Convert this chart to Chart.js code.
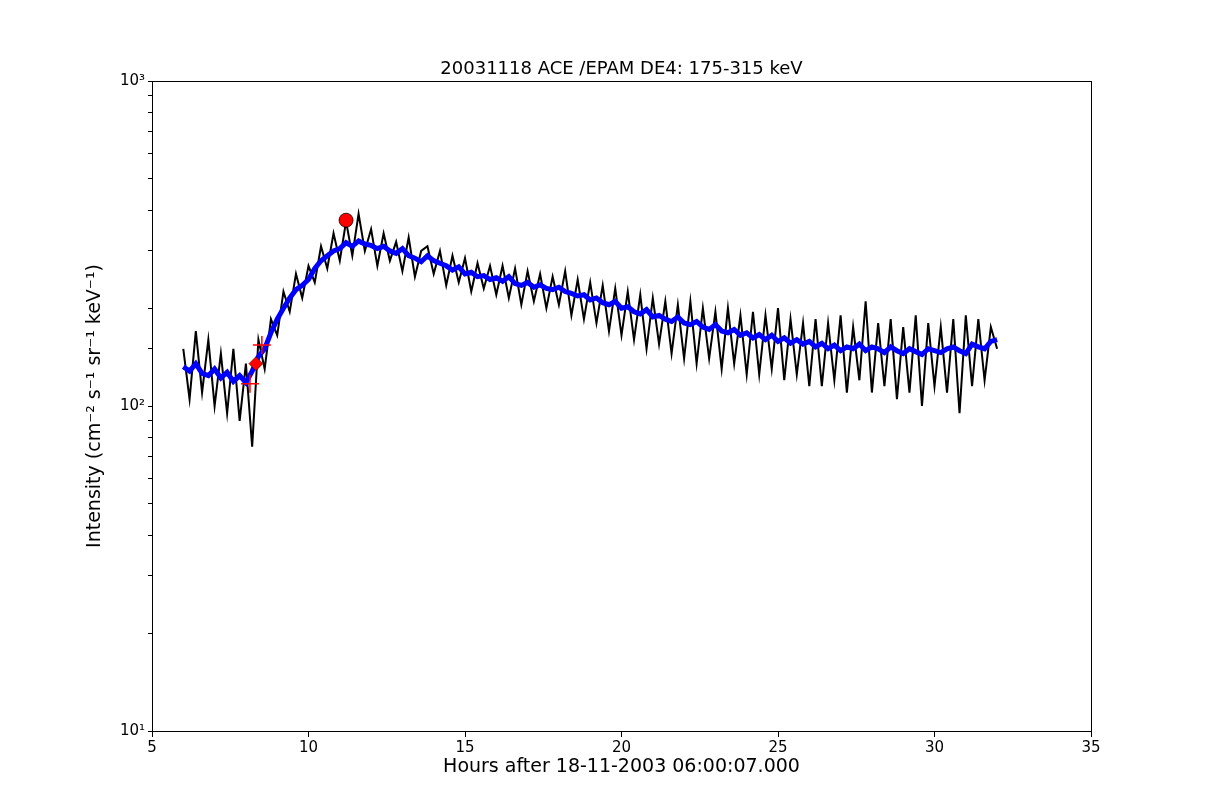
<!DOCTYPE html>
<html><head><meta charset="utf-8">
<script src="https://cdn.jsdelivr.net/npm/chart.js@4/dist/chart.umd.min.js"></script>
<style>body{margin:0;background:#fff}</style>
</head><body><canvas id="c" width="1212" height="812"></canvas>
<script>
const xStart = 6.0, xStep = 0.2;
const blueVals = [132,128,135,126,124,130,122,127,119,124,118,
128,142,150,168,185,200,215,228,235,245,
265,280,290,300,305,318,310,322,315,312,
305,310,300,295,305,290,285,278,290,280,
275,270,262,268,255,258,250,252,245,248,
242,250,238,235,240,232,236,230,228,232,
225,222,218,220,212,215,208,205,210,200,
202,195,192,198,188,190,185,182,188,180,
178,182,175,172,178,170,168,172,165,168,
162,166,160,165,158,162,156,160,155,158,
152,156,150,154,148,152,150,155,148,152,
150,146,152,148,145,150,147,144,150,148,
146,150,152,148,145,155,152,150,158,160];
const blackVals = [150,105,170,110,160,100,145,95,150,90,135,
75,160,130,185,165,225,195,255,215,270,
240,310,265,340,280,370,290,390,300,350,
270,340,280,320,260,330,250,300,310,255,
300,235,290,240,285,225,275,230,270,220,
270,215,265,205,260,210,255,200,250,205,
260,190,245,185,240,180,235,170,230,165,
225,160,220,150,215,155,210,145,205,140,
210,135,200,140,195,130,200,135,190,125,
195,125,190,130,200,120,185,125,180,115,
185,115,180,120,190,110,175,120,210,110,
180,115,185,105,175,110,190,100,180,115,
175,110,185,95,190,115,185,120,175,150];
const crossPts = [{x:8.13,y:117},{x:8.51,y:154}];
const diamondPts = [{x:8.32,y:135}];
const circlePts = [{x:11.2,y:373}];
const xTicks = [5,10,15,20,25,30,35];
const yMajor = {10:'10¹',100:'10²',1000:'10³'};
const toPts = v => v.map((y,i)=>({x:+(xStart+i*xStep).toFixed(2),y}));
const F='"DejaVu Sans", sans-serif';
const deco={id:'deco',afterDraw(ch){const c=ch.ctx,a=ch.chartArea;c.save();c.strokeStyle='#000';c.lineWidth=1;
c.strokeRect(a.left+0.5,a.top+0.5,a.right-a.left,a.bottom-a.top);
c.fillStyle='#000';c.font='18px '+F;c.textAlign='center';c.textBaseline='bottom';
c.fillText('20031118 ACE /EPAM DE4: 175-315 keV',(a.left+a.right)/2,a.top-3);c.restore();}};
new Chart(document.getElementById('c'),{
type:'line',
data:{datasets:[
{order:3,data:toPts(blackVals),borderColor:'#000',borderWidth:2,pointRadius:0,tension:0},
{order:2,data:toPts(blueVals),borderColor:'#0000ff',borderWidth:5,pointRadius:0,tension:0},
{order:0,data:crossPts,showLine:false,pointStyle:'cross',pointRadius:9,borderColor:'#ff0000',borderWidth:1.5},
{order:0,data:diamondPts,showLine:false,pointStyle:'rectRot',pointRadius:7,backgroundColor:'#ff0000',borderColor:'#000',borderWidth:0.5},
{order:0,data:circlePts,showLine:false,pointStyle:'circle',pointRadius:7,backgroundColor:'#ff0000',borderColor:'#000',borderWidth:0.8}
]},
options:{responsive:false,animation:false,devicePixelRatio:1,
layout:{padding:{left:80,right:121,top:81,bottom:30}},
plugins:{legend:{display:false},tooltip:{enabled:false}},
scales:{
x:{type:'linear',min:5,max:35,afterBuildTicks(s){s.ticks=xTicks.map(v=>({value:v}));},
 afterFit(s){s.height=51;},
 grid:{drawOnChartArea:false,tickLength:6,color:'#000'},border:{display:false},
 ticks:{color:'#000',font:{size:15,family:F},padding:2},
 title:{display:true,text:'Hours after 18-11-2003 06:00:07.000',color:'#000',font:{size:19,family:F},padding:{top:2}}},
y:{type:'logarithmic',min:10,max:1000,afterFit(s){s.width=72;},
 grid:{drawOnChartArea:false,tickLength:4,color:'#000'},border:{display:false},
 ticks:{color:'#000',font:{size:15,family:F},autoSkip:false,callback:(v)=>yMajor[v]||''},
 title:{display:true,text:'Intensity (cm⁻² s⁻¹ sr⁻¹ keV⁻¹)',color:'#000',font:{size:19,family:F},padding:{bottom:8}}}
}},
plugins:[deco]});
</script></body></html>
